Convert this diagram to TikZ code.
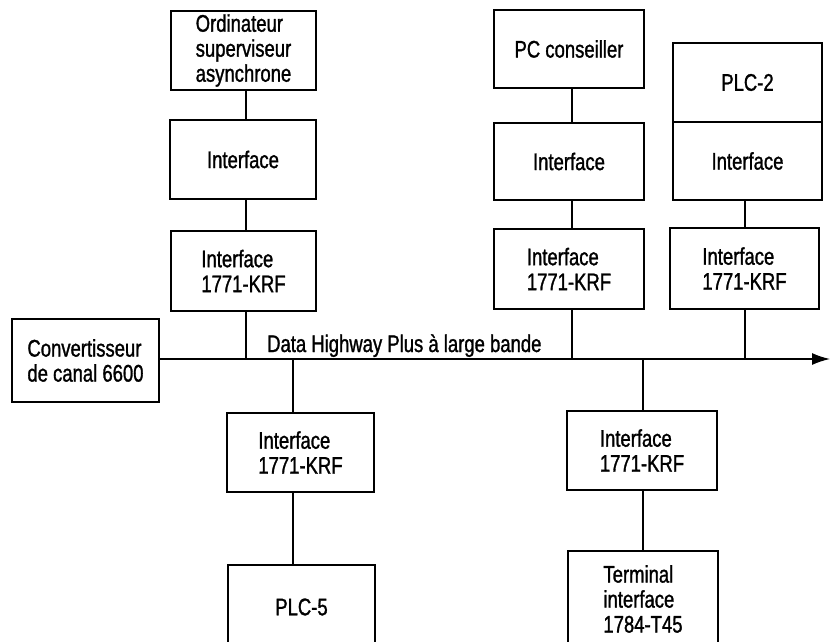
\documentclass[tikz,border=0pt]{standalone}
\usepackage{fontspec}
\setmainfont{Liberation Sans}[FakeStretch=0.77,FakeBold=1.2]
\usetikzlibrary{arrows.meta}
\begin{document}
\begin{tikzpicture}[x=1pt,y=-1pt,
  box/.style={draw, line width=1.5pt, align=left, inner sep=0pt,
    font=\fontsize{24}{25}\selectfont},
  wire/.style={line width=1.5pt},
  lbl/.style={font=\fontsize{24}{25}\selectfont, inner sep=0pt}]
\clip (0,0) rectangle (830,642);
\fill[white] (0,0) rectangle (830,642);
% top column 1
\node[box, minimum width=145pt, minimum height=79pt] (ord) at (243.5,50.5) {Ordinateur\\superviseur\\asynchrone};
\node[box, minimum width=146pt, minimum height=79pt] (if1) at (243,159.5) {Interface};
\node[box, minimum width=145pt, minimum height=80pt] (krf1) at (243.5,271) {Interface\\1771-KRF};
% top column 2
\node[box, minimum width=150pt, minimum height=78pt] (pc) at (569,49) {PC conseiller};
\node[box, minimum width=150pt, minimum height=77pt] (if2) at (569,161.5) {Interface};
\node[box, minimum width=150pt, minimum height=80pt] (krf2) at (569,269) {Interface\\1771-KRF};
% top column 3
\node[box, minimum width=149pt, minimum height=79pt] (plc2) at (747.5,82.5) {PLC-2};
\node[box, minimum width=149pt, minimum height=78pt] (if3) at (747.5,161) {Interface};
\node[box, minimum width=149pt, minimum height=81pt] (krf3) at (744.5,268.5) {Interface\\1771-KRF};
% converter
\node[box, minimum width=147pt, minimum height=83pt] (conv) at (85.5,360.5) {Convertisseur\\de canal 6600};
% bottom
\node[box, minimum width=147pt, minimum height=79pt] (krf4) at (300.5,452.5) {Interface\\1771-KRF};
\node[box, minimum width=147pt, minimum height=84pt] (plc5) at (301.5,607) {PLC-5};
\node[box, minimum width=150pt, minimum height=79pt] (krf5) at (642,450.5) {Interface\\1771-KRF};
\node[box, minimum width=150pt, minimum height=96pt] (term) at (643,599) {Terminal\\interface\\1784-T45};
% bus
\coordinate (busR) at (830,359);
\draw[wire, -{Latex[length=18pt,width=12pt]}] (conv.east |- 0,359) -- (busR);
\node[lbl, anchor=base west] (buslbl) at (267,352) {Data Highway Plus à large bande};
% vertical connectors
\draw[wire] (ord.south -| 246,0) -- (if1.north -| 246,0);
\draw[wire] (if1.south -| 246,0) -- (krf1.north -| 246,0);
\draw[wire] (krf1.south -| 246,0) -- (246,359);
\draw[wire] (pc.south -| 572,0) -- (if2.north -| 572,0);
\draw[wire] (if2.south -| 572,0) -- (krf2.north -| 572,0);
\draw[wire] (krf2.south -| 572,0) -- (572,359);
\draw[wire] (if3.south -| 745,0) -- (krf3.north -| 745,0);
\draw[wire] (krf3.south -| 745,0) -- (745,359);
\draw[wire] (293,359) -- (krf4.north -| 293,0);
\draw[wire] (krf4.south -| 293,0) -- (plc5.north -| 293,0);
\draw[wire] (643,359) -- (krf5.north -| 643,0);
\draw[wire] (krf5.south -| 643,0) -- (term.north -| 643,0);
\end{tikzpicture}
\end{document}
